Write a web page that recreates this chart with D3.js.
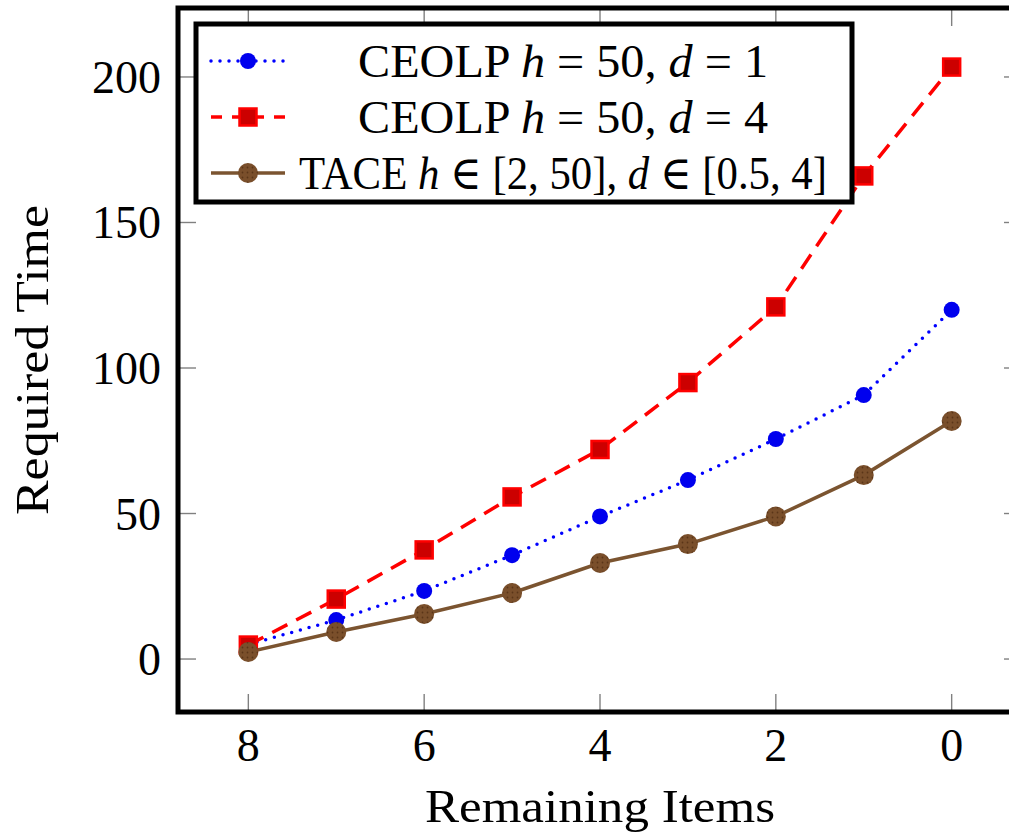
<!DOCTYPE html>
<html><head><meta charset="utf-8">
<script src="https://cdn.jsdelivr.net/npm/d3@7"></script>
<style>body{margin:0;background:#fff}svg{display:block}</style>
</head><body>
<svg id="c" width="1009" height="832"></svg>
<script>
const xValues = [8, 7, 6, 5, 4, 3, 2, 1, 0];
const ceolpD1 = [5, 13.4, 23.4, 35.7, 49, 61.5, 75.6, 90.7, 120];
const ceolpD4 = [4.8, 20.6, 37.5, 55.7, 72, 95, 121, 166, 203.4];
const tace = [2.4, 9.3, 15.5, 22.7, 33, 39.5, 49, 63.2, 81.8];
const xTicks = [8, 6, 4, 2, 0];
const yTicks = [0, 50, 100, 150, 200];
const xTitle = "Remaining Items";
const yTitle = "Required Time";

const svg = d3.select("#c");
const L = 178, R = 1022, T = 8, B = 712;
const x = d3.scaleLinear().domain([8.8, -0.8]).range([L, R]);
const y = d3.scaleLinear().domain([-18.2, 223.7]).range([B, T]);
const font = "'Liberation Serif', 'DejaVu Serif', serif";

const defs = svg.append("defs");
const pat = defs.append("pattern").attr("id","dots").attr("width",5).attr("height",5).attr("patternUnits","userSpaceOnUse");
pat.append("rect").attr("width",5).attr("height",5).attr("fill","#7a4f2b");
pat.append("circle").attr("cx",2.5).attr("cy",2.5).attr("r",0.9).attr("fill","#5a3518");

// ticks (inside, gray, mirrored)
const tk = 18, tc = "#808080";
const g = svg.append("g");
g.selectAll(".xb").data(xTicks).join("line")
  .attr("x1", d => x(d)).attr("x2", d => x(d)).attr("y1", B).attr("y2", B - tk)
  .attr("stroke", tc).attr("stroke-width", 1.4);
g.selectAll(".xt").data(xTicks).join("line")
  .attr("x1", d => x(d)).attr("x2", d => x(d)).attr("y1", T).attr("y2", T + tk)
  .attr("stroke", tc).attr("stroke-width", 1.4);
g.selectAll(".yl").data(yTicks).join("line")
  .attr("x1", L).attr("x2", L + tk).attr("y1", d => y(d)).attr("y2", d => y(d))
  .attr("stroke", tc).attr("stroke-width", 1.4);
g.selectAll(".yr").data(yTicks).join("line")
  .attr("x1", R).attr("x2", R - tk).attr("y1", d => y(d)).attr("y2", d => y(d))
  .attr("stroke", tc).attr("stroke-width", 1.4);

// tick labels
svg.selectAll(".xl").data(xTicks).join("text")
  .attr("x", d => x(d)).attr("y", 761).attr("text-anchor","middle")
  .attr("font-family", font).attr("font-size", 46).text(d => d);
svg.selectAll(".ylab").data(yTicks).join("text")
  .attr("x", 161).attr("y", d => y(d) + 16).attr("text-anchor","end")
  .attr("font-family", font).attr("font-size", 46).text(d => d);

// axis titles
svg.append("text").attr("x", (L + R) / 2).attr("y", 822).attr("text-anchor","middle")
  .attr("font-family", font).attr("font-size", 47)
  .attr("textLength", 350).attr("lengthAdjust", "spacingAndGlyphs").text(xTitle);
svg.append("text").attr("transform", `translate(48,${(T + B) / 2}) rotate(-90)`)
  .attr("text-anchor","middle").attr("font-family", font).attr("font-size", 47)
  .attr("textLength", 310).attr("lengthAdjust", "spacingAndGlyphs").text(yTitle);

// series
const pts = vals => xValues.map((xv, i) => [x(xv), y(vals[i])]);
const line = d3.line();
const series = [
  {vals: ceolpD1, color: "#0000ff", dash: "0 9", cap: "round", mark: "circle"},
  {vals: ceolpD4, color: "#ff0000", dash: "17 10", cap: "butt", mark: "square"},
  {vals: tace, color: "#7b5430", dash: null, cap: "butt", mark: "brown"}
];
const plot = svg.append("g");
function drawMark(sel, type, cx, cy) {
  if (type === "circle") {
    sel.append("circle").attr("cx", cx).attr("cy", cy).attr("r", 8).attr("fill", "#0000ee");
  } else if (type === "square") {
    sel.append("rect").attr("x", cx - 8.5).attr("y", cy - 8.5).attr("width", 17).attr("height", 17)
      .attr("fill", "#cc0000").attr("stroke", "#ff0000").attr("stroke-width", 2.5);
  } else {
    sel.append("circle").attr("cx", cx).attr("cy", cy).attr("r", 10).attr("fill", "url(#dots)");
  }
}
series.forEach(s => {
  const p = pts(s.vals);
  plot.append("path").attr("d", line(p)).attr("fill","none").attr("stroke", s.color)
    .attr("stroke-width", 3.5).attr("stroke-dasharray", s.dash).attr("stroke-linecap", s.cap);
});
series.forEach(s => {
  pts(s.vals).forEach(([cx, cy]) => drawMark(plot, s.mark, cx, cy));
});

// frame
svg.append("rect").attr("x", L).attr("y", T).attr("width", R - L).attr("height", B - T)
  .attr("fill","none").attr("stroke","#000").attr("stroke-width", 5);

// legend
const lg = svg.append("g");
lg.append("rect").attr("x", 196).attr("y", 24).attr("width", 656).attr("height", 178)
  .attr("fill","#fff").attr("stroke","#000").attr("stroke-width", 5);
const legendItems = [
  {s: series[0], w: 410, parts: [["CEOLP ", false], ["h", true], [" = 50, ", false], ["d", true], [" = 1", false]]},
  {s: series[1], w: 410, parts: [["CEOLP ", false], ["h", true], [" = 50, ", false], ["d", true], [" = 4", false]]},
  {s: series[2], w: 528, parts: [["TACE ", false], ["h", true], [" ∈ [2, 50], ", false], ["d", true], [" ∈ [0.5, 4]", false]]}
];
const rowY = [61, 117, 173];
legendItems.forEach((it, i) => {
  const yy = rowY[i];
  lg.append("line").attr("x1", 211).attr("x2", 285).attr("y1", yy).attr("y2", yy)
    .attr("stroke", it.s.color).attr("stroke-width", 3.5)
    .attr("stroke-dasharray", it.s.mark === "circle" ? "0 9" : it.s.mark === "square" ? "11 10" : null)
    .attr("stroke-linecap", it.s.cap);
  drawMark(lg, it.s.mark, 248, yy);
  const t = lg.append("text").attr("x", 563).attr("y", yy + 16).attr("text-anchor","middle")
    .attr("font-family", font).attr("font-size", 47)
    .attr("textLength", it.w).attr("lengthAdjust", "spacingAndGlyphs");
  it.parts.forEach(([txt, it2]) => t.append("tspan").attr("font-style", it2 ? "italic" : "normal").text(txt));
});
</script>
</body></html>
